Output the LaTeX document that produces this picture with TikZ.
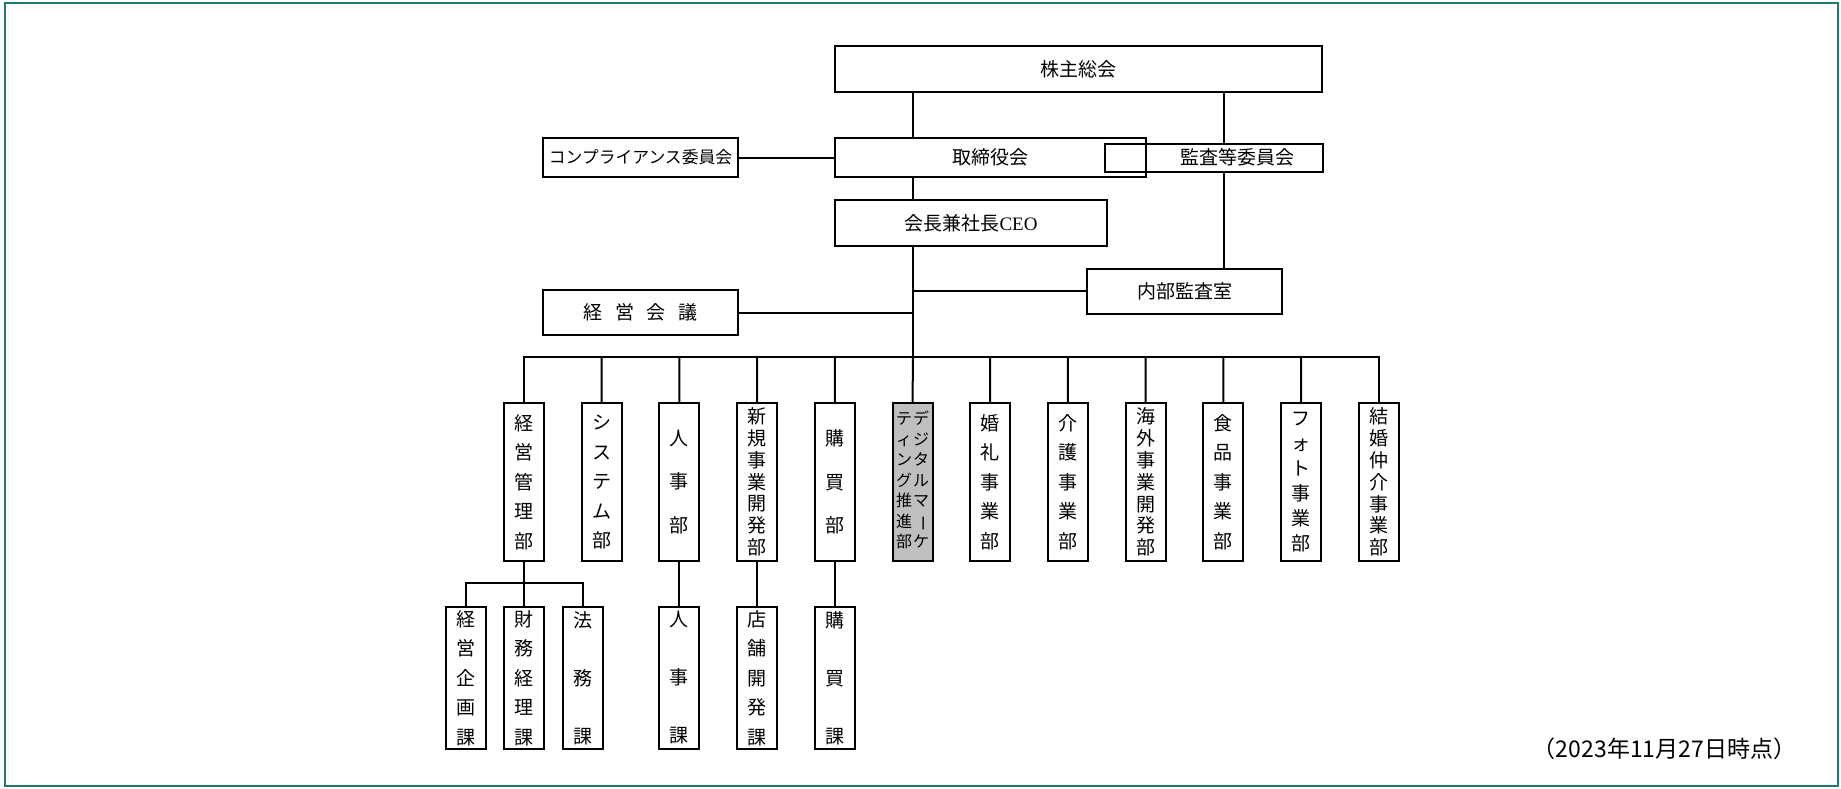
\documentclass[tikz,border=0pt]{standalone}
\usepackage{fontspec}
\setmainfont{Liberation Serif}
\newfontfamily\jp{Noto Sans CJK JP}
\usepackage{tikz}
\usetikzlibrary{positioning}
\usepackage{xcolor}
\definecolor{frameteal}{RGB}{28,122,110}

\begin{document}
\begin{tikzpicture}[
    x=1pt, y=-1pt,
    box/.style={draw, line width=2pt, inner sep=0pt, outer sep=0pt, font=\jp\fontsize{19}{23}\selectfont},
    dept/.style={box, minimum width=40pt, minimum height=158pt, align=center},
    sect/.style={box, minimum width=40pt, minimum height=142pt, align=center},
    tate3/.style={font=\jp\fontsize{19}{43.5}\selectfont},
    tate5/.style={font=\jp\fontsize{19}{29.5}\selectfont},
    tate6/.style={font=\jp\fontsize{19}{25}\selectfont},
    tate7/.style={font=\jp\fontsize{19}{21.8}\selectfont},
    wide3/.style={font=\jp\fontsize{19}{58}\selectfont},
    line/.style={line width=2pt},
    node distance=37.7pt
]
\useasboundingbox (0,0) rectangle (1841,788);
\draw[frameteal, line width=2pt] (5,3.3) rectangle (1837.5,786);

% Top
\node[box, minimum width=487pt, minimum height=46pt] (soukai) at (1078.5,69) {株主総会};
\node[box, minimum width=311pt, minimum height=39pt, below right=46pt and 0pt of soukai.south west] (board) {取締役会};
\node[box, minimum width=272pt, minimum height=46pt, below right=23pt and 0pt of board.south west] (ceo) {会長兼社長{\rmfamily CEO}};
\node[box, minimum width=195pt, minimum height=39pt, left=97pt of board, font=\jp\fontsize{16.8}{20}\selectfont] (comp) {コンプライアンス委員会};
\node[box, minimum width=195pt, minimum height=45pt, below=113pt of comp] (keiei) {経\hspace{13pt}営\hspace{13pt}会\hspace{13pt}議};
\node[box, minimum width=218pt, minimum height=28pt, right=-41pt of board] (audit) {\hspace*{46pt}監査等委員会};
\node[box, minimum width=195pt, minimum height=45pt, below left=97pt and 41pt of audit.south east] (naibu) {内部監査室};
\coordinate (kansa) at ([xshift=10pt]audit.center);
\coordinate (spine) at (913,357);

% Departments
\node[dept, tate5] (kanri) at (524,482) {経\\営\\管\\理\\部};
\node[dept, tate5, right=of kanri] (system) {シ\\ス\\テ\\ム\\部};
\node[dept, tate3, right=of system] (jinji) {人\\事\\部};
\node[dept, tate7, right=of jinji] (shinki) {新\\規\\事\\業\\開\\発\\部};
\node[dept, tate3, right=of shinki] (kobai) {購\\買\\部};
\node[dept, fill=black!25, right=of kobai] (digital) {\fontsize{16}{20.5}\selectfont\setlength{\tabcolsep}{0.5pt}%
    \begin{tabular}{@{}cc@{}}テ&デ\\ィ&ジ\\ン&タ\\グ&ル\\推&マ\\進&\rotatebox[origin=c]{-90}{ー}\\部&ケ\end{tabular}};
\node[dept, tate5, right=of digital] (konrei) {婚\\礼\\事\\業\\部};
\node[dept, tate5, right=of konrei] (kaigo) {介\\護\\事\\業\\部};
\node[dept, tate7, right=of kaigo] (kaigai) {海\\外\\事\\業\\開\\発\\部};
\node[dept, tate5, right=of kaigai] (shokuhin) {食\\品\\事\\業\\部};
\node[dept, tate6, right=of shokuhin] (photo) {フ\\ォ\\ト\\事\\業\\部};
\node[dept, tate7, right=of photo] (kekkon) {結\\婚\\仲\\介\\事\\業\\部};

% Sections
\node[sect, tate5, below=46pt of kanri] (zaimu) {財\\務\\経\\理\\課};
\node[sect, tate5, left=18pt of zaimu] (kikaku) {経\\営\\企\\画\\課};
\node[sect, wide3, right=19pt of zaimu] (houmu) {法\\務\\課};
\node[sect, wide3, below=46pt of jinji] (jinjika) {人\\事\\課};
\node[sect, tate5, below=46pt of shinki] (tenpo) {店\\舗\\開\\発\\課};
\node[sect, wide3, below=46pt of kobai] (kobaika) {購\\買\\課};

\node[font=\jp\fontsize{23}{23}\selectfont] (asof) at (1664.5,749) {（2023年11月27日時点）};

% Lines
\draw[line] (soukai.south -| spine) -- (board.north -| spine);
\draw[line] (board.south -| spine) -- (ceo.north -| spine);
\draw[line] (ceo.south -| spine) -- (spine);
\draw[line] (comp) -- (board);
\draw[line] (keiei) -- (keiei -| spine);
\draw[line] (naibu -| spine) -- (naibu);
\draw[line] (soukai.south -| kansa) -- (audit.north -| kansa);
\draw[line] (audit.south -| kansa) -- (naibu.north -| kansa);
\draw[line] (kanri.north) |- (spine) -| (kekkon.north);
\draw[line] (system.north) -- (system.north |- spine)
    (jinji.north) -- (jinji.north |- spine)
    (shinki.north) -- (shinki.north |- spine)
    (kobai.north) -- (kobai.north |- spine)
    (digital.north) -- (spine)
    (konrei.north) -- (konrei.north |- spine)
    (kaigo.north) -- (kaigo.north |- spine)
    (kaigai.north) -- (kaigai.north |- spine)
    (shokuhin.north) -- (shokuhin.north |- spine)
    (photo.north) -- (photo.north |- spine);
\draw[line] (kanri) -- (zaimu);
\draw[line] (kikaku.north) -- ++(0,24pt) -| (houmu.north);
\draw[line] (jinji) -- (jinjika);
\draw[line] (shinki) -- (tenpo);
\draw[line] (kobai) -- (kobaika);
\end{tikzpicture}
\end{document}
